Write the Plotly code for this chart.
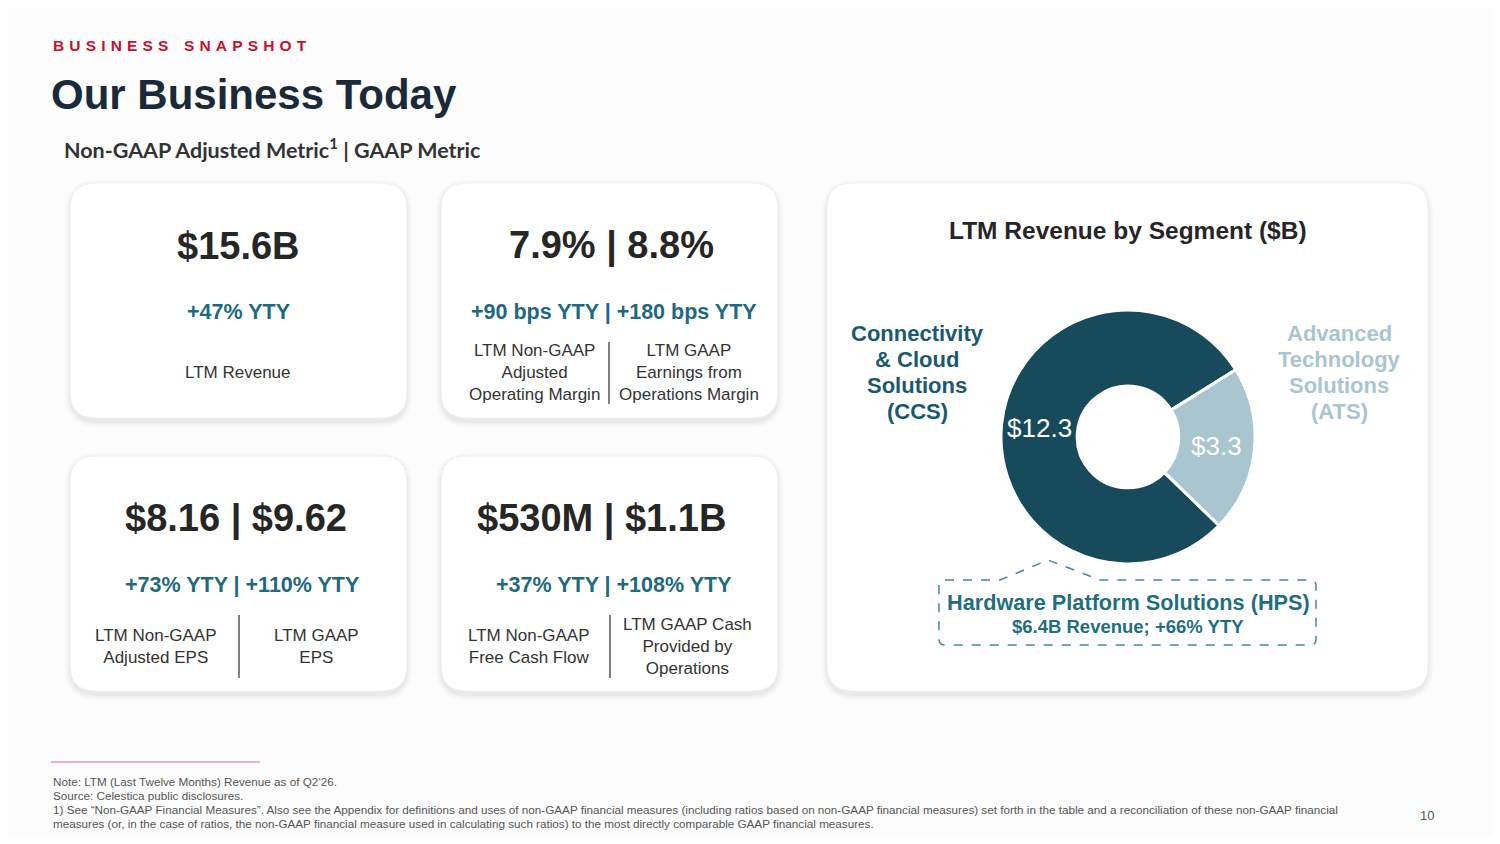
import plotly.graph_objects as go

# page is drawn with an 8px body margin, so the figure is a bit smaller
OFF = 8
W, H = 1500 - 2 * OFF, 844 - 2 * OFF

# segment data (LTM revenue, $B)
segments = ["Connectivity & Cloud Solutions (CCS)", "Advanced Technology Solutions (ATS)"]
segment_values = [12.3, 3.3]
segment_colors = ["#174a5b", "#a9c5cf"]
segment_label_lines = [["Connectivity", "& Cloud", "Solutions", "(CCS)"],
                       ["Advanced", "Technology", "Solutions", "(ATS)"]]

# metric cards
card_values = ["$15.6B", "7.9% | 8.8%", "$8.16 | $9.62", "$530M | $1.1B"]
card_growth = ["+47% YTY", "+90 bps YTY | +180 bps YTY", "+73% YTY | +110% YTY", "+37% YTY | +108% YTY"]
card_left = ["LTM Revenue", "LTM Non-GAAP<br>Adjusted<br>Operating Margin",
             "LTM Non-GAAP<br>Adjusted EPS", "LTM Non-GAAP<br>Free Cash Flow"]
card_right = [None, "LTM GAAP<br>Earnings from<br>Operations Margin",
              "LTM GAAP<br>EPS", "LTM GAAP Cash<br>Provided by<br>Operations"]

footnotes = [
    "Note: LTM (Last Twelve Months) Revenue as of Q2\u201926.",
    "Source: Celestica public disclosures.",
    "1) See \u201cNon-GAAP Financial Measures\u201d. Also see the Appendix for definitions and uses of non-GAAP financial measures (including ratios based on non-GAAP financial measures) set forth in the table and a reconciliation of these non-GAAP financial",
    "measures (or, in the case of ratios, the non-GAAP financial measure used in calculating such ratios) to the most directly comparable GAAP financial measures.",
]

FONT = "Liberation Sans, Arial, sans-serif"
TEAL = "#1e6a80"
DARK = "#262626"


def px(x):
    return (x - OFF) / W


def py(y):
    return 1 - (y - OFF) / H


def rrect(x0, y0, x1, y1, r):
    # rounded rectangle path in paper coords (pixel inputs)
    pts = [
        f"M{px(x0 + r)},{py(y0)}", f"L{px(x1 - r)},{py(y0)}",
        f"Q{px(x1)},{py(y0)} {px(x1)},{py(y0 + r)}", f"L{px(x1)},{py(y1 - r)}",
        f"Q{px(x1)},{py(y1)} {px(x1 - r)},{py(y1)}", f"L{px(x0 + r)},{py(y1)}",
        f"Q{px(x0)},{py(y1)} {px(x0)},{py(y1 - r)}", f"L{px(x0)},{py(y0 + r)}",
        f"Q{px(x0)},{py(y0)} {px(x0 + r)},{py(y0)}", "Z",
    ]
    return " ".join(pts)


shapes = []
annotations = []


def text(x, y, s, size, color=DARK, bold=False, family=FONT, xanchor="center", yanchor="middle"):
    annotations.append(dict(
        x=px(x), y=py(y), xref="paper", yref="paper", text=s, showarrow=False,
        xanchor=xanchor, yanchor=yanchor, align="center" if xanchor == "center" else "left",
        font=dict(size=size, color=color, family=family, weight="bold" if bold else "normal"),
    ))


def card(x0, y0, x1, y1, r=26):
    for i, a in enumerate([0.018, 0.022, 0.03]):
        g = 6 - 2 * i
        shapes.append(dict(type="path", xref="paper", yref="paper", layer="below",
                           path=rrect(x0 - g + 1, y0 - g + 3, x1 + g - 1, y1 + g + 3, r + g),
                           fillcolor=f"rgba(0,0,0,{a})", line=dict(width=0)))
    shapes.append(dict(type="path", xref="paper", yref="paper", layer="below",
                       path=rrect(x0, y0, x1, y1, r), fillcolor="#ffffff",
                       line=dict(color="#f0f0f0", width=1)))


def vline(x, y0, y1):
    shapes.append(dict(type="line", xref="paper", yref="paper", x0=px(x), x1=px(x),
                       y0=py(y0), y1=py(y1), line=dict(color="#555555", width=1.5)))


# header
sp = "\u2004"
text(51, 46, sp.join("BUSINESS") + sp * 3 + sp.join("SNAPSHOT"), 15.5, "#c8102e", True, xanchor="left")
text(49, 94, "Our Business Today", 42, "#1b2a38", True, xanchor="left")
text(62, 149, "Non-GAAP Adjusted Metric<sup>1</sup> | GAAP Metric", 21.5, "#333333", True,
     family="Lato, Open Sans, sans-serif", xanchor="left")

# metric cards
boxes = [(70, 183, 407, 418), (441, 183, 778, 418), (70, 456, 407, 691), (441, 456, 778, 691)]
value_x = [238, 611, 236, 601]
growth_x = [238, 614, 242, 614]
left_x = [238, 534, 156, 529]
right_x = [None, 689, 316, 687]
for i, (x0, y0, x1, y1) in enumerate(boxes):
    card(x0, y0, x1, y1)
    text(value_x[i], y0 + 63, card_values[i], 38, DARK, True)
    text(growth_x[i], y0 + 129, card_growth[i], 21.5, TEAL, True)
    text(left_x[i], y0 + 190, card_left[i], 17, "#333333")
    if card_right[i] is not None:
        text(right_x[i], y0 + 190, card_right[i], 17, "#333333")
vline(609, 342, 404)
vline(239, 615, 678)
vline(610, 615, 678)

# segment card
card(827, 183, 1428, 691)
text(1128, 231, "LTM Revenue by Segment ($B)", 24.5, DARK, True)
for lx, col, lines in zip([917, 1339], ["#1b5a6e", "#a9c5cf"], segment_label_lines):
    for k, s in enumerate(lines):
        text(lx, 333 + 26.2 * k, s, 22, col, True)

# HPS callout (dashed box with notch pointing to donut)
cx0, cy0, cx1, cy1, r = 939, 580, 1316, 645, 6
hps = [
    f"M{px(cx0 + r)},{py(cy0)}", f"L{px(1000)},{py(cy0)}", f"L{px(1048)},{py(560)}",
    f"L{px(1100)},{py(cy0)}", f"L{px(cx1 - r)},{py(cy0)}",
    f"Q{px(cx1)},{py(cy0)} {px(cx1)},{py(cy0 + r)}", f"L{px(cx1)},{py(cy1 - r)}",
    f"Q{px(cx1)},{py(cy1)} {px(cx1 - r)},{py(cy1)}", f"L{px(cx0 + r)},{py(cy1)}",
    f"Q{px(cx0)},{py(cy1)} {px(cx0)},{py(cy1 - r)}", f"L{px(cx0)},{py(cy0 + r)}",
    f"Q{px(cx0)},{py(cy0)} {px(cx0 + r)},{py(cy0)}", "Z",
]
shapes.append(dict(type="path", xref="paper", yref="paper", path=" ".join(hps),
                   line=dict(color="#3f8a98", width=1.5, dash="dash")))
text(1128, 602, "Hardware Platform Solutions (HPS)", 21.7, "#1f6f80", True)
text(1128, 626, "$6.4B Revenue; +66% YTY", 18.5, "#1f6f80", True)

# footer
shapes.append(dict(type="line", xref="paper", yref="paper", x0=px(51), x1=px(260),
                   y0=py(762), y1=py(762), line=dict(color="#d9717f", width=1)))
for k, line in enumerate(footnotes):
    text(51, 781 + k * 14.3, line, 11.7, "#555555", xanchor="left")
text(1427, 815, "10", 13, "#555555")

# donut
dcx, dcy, dr = 1128, 437, 127
fig = go.Figure(go.Pie(
    labels=segments, values=segment_values, sort=False, direction="clockwise",
    rotation=134.2, hole=0.4, marker=dict(colors=segment_colors, line=dict(color="#ffffff", width=3)),
    texttemplate="$%{value}", textposition="inside", insidetextorientation="horizontal",
    textfont=dict(size=26, color="#ffffff", family=FONT), showlegend=False, hoverinfo="label+value",
    domain=dict(x=[px(dcx - dr), px(dcx + dr)], y=[py(dcy + dr), py(dcy - dr)]),
))

fig.update_layout(
    width=W, height=H, margin=dict(l=0, r=0, t=0, b=0),
    paper_bgcolor="#fcfcfc", plot_bgcolor="#fcfcfc",
    shapes=shapes, annotations=annotations, showlegend=False,
)

fig.write_html("out.html")
